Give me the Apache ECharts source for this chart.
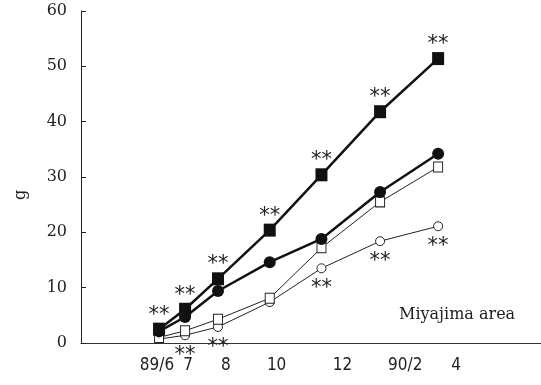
<!DOCTYPE html>
<html>
<head>
    <meta charset="utf-8">
    <title>Miyajima area</title>
</head>
<body style="margin: 0">
    <div id="container" style="width:541px;height:385px"></div>
    <script src="https://cdn.jsdelivr.net/npm/echarts@6/dist/echarts.min.js"></script>
    <script>
        // months counted from 1989/1 (so 14 = 1990/2)
        var months = [6.07, 6.94, 8.04, 9.77, 11.5, 13.46, 15.4];
        var filledSquare = [2.5, 6.1, 11.6, 20.4, 30.4, 41.8, 51.4];
        var filledCircle = [2.1, 4.7, 9.4, 14.6, 18.8, 27.3, 34.2];
        var openSquare = [1.0, 2.2, 4.3, 8.1, 17.2, 25.5, 31.8];
        var openCircle = [0.7, 1.4, 2.9, 7.4, 13.5, 18.4, 21.1];
        // ** marks (significance)
        var squareStars = [1, 1, 1, 1, 1, 1, 1];
        var circleStars = [0, 1, 1, 0, 1, 1, 1];
        var tickValues = [6, 7.04, 8.3, 10, 12.2, 14.3, 16];
        var tickLabels = ['89/6', '7', '8', '10', '12', '90/2', '4'];

        function pairs(ys) {
            return ys.map(function (y, i) { return [months[i], y]; });
        }
        function starLabel(flags) {
            return function (p) { return flags[p.dataIndex] ? '**' : ''; };
        }

        var myChart = echarts.init(document.getElementById('container'), null, { renderer: 'canvas' });

        var option = {
            animation: false,
            title: {
                text: 'Miyajima area',
                left: 394, top: 302,
                textStyle: { fontFamily: 'DejaVu Serif', fontSize: 16, fontWeight: 'normal', color: '#222' }
            },
            grid: { left: 81, right: 0, top: 11, bottom: 42 },
            xAxis: {
                type: 'value',
                min: 3.46,
                max: 18.84,
                splitLine: { show: false },
                axisTick: { show: false },
                axisLine: { lineStyle: { color: '#333', width: 1 } },
                axisLabel: {
                    customValues: tickValues,
                    formatter: function (v) {
                        var i = tickValues.indexOf(v);
                        return i < 0 ? '' : tickLabels[i];
                    },
                    margin: 14,
                    fontFamily: 'Liberation Sans Narrow, DejaVu Sans Condensed',
                    fontSize: 17,
                    color: '#222'
                }
            },
            yAxis: {
                type: 'value',
                min: 0, max: 60, interval: 10,
                name: 'g',
                nameLocation: 'middle',
                nameRotate: 90,
                nameGap: 52,
                nameTextStyle: { fontFamily: 'DejaVu Serif', fontSize: 16, color: '#222', padding: [0, 0, 0, -36] },
                splitLine: { show: false },
                axisLine: { show: true, lineStyle: { color: '#222', width: 1 } },
                axisTick: { show: true, inside: true, length: 5, lineStyle: { color: '#222' } },
                axisLabel: { fontFamily: 'DejaVu Serif', fontSize: 16, color: '#222', margin: 14 }
            },
            series: [
                {
                    type: 'line', data: pairs(openCircle),
                    symbol: 'circle', symbolSize: 9,
                    lineStyle: { color: '#222', width: 1 },
                    itemStyle: { color: '#fff', borderColor: '#222', borderWidth: 1 },
                    label: {
                        show: true, position: 'bottom', distance: 5,
                        formatter: starLabel(circleStars),
                        fontFamily: 'DejaVu Sans', fontSize: 21, color: '#222'
                    },
                    z: 2
                },
                {
                    type: 'line', data: pairs(openSquare),
                    symbol: 'rect', symbolSize: [9, 10],
                    lineStyle: { color: '#222', width: 1 },
                    itemStyle: { color: '#fff', borderColor: '#222', borderWidth: 1 },
                    z: 3
                },
                {
                    type: 'line', data: pairs(filledCircle),
                    symbol: 'circle', symbolSize: 12,
                    lineStyle: { color: '#111', width: 2.5 },
                    itemStyle: { color: '#111' },
                    z: 4
                },
                {
                    type: 'line', data: pairs(filledSquare),
                    symbol: 'rect', symbolSize: [12, 13],
                    lineStyle: { color: '#111', width: 2.5 },
                    itemStyle: { color: '#111' },
                    label: {
                        show: true, position: 'top', distance: -3,
                        formatter: starLabel(squareStars),
                        fontFamily: 'DejaVu Sans', fontSize: 21, color: '#222'
                    },
                    z: 5
                }
            ]
        };

        myChart.setOption(option);
        window.addEventListener('resize', myChart.resize);
    </script>
</body>
</html>
